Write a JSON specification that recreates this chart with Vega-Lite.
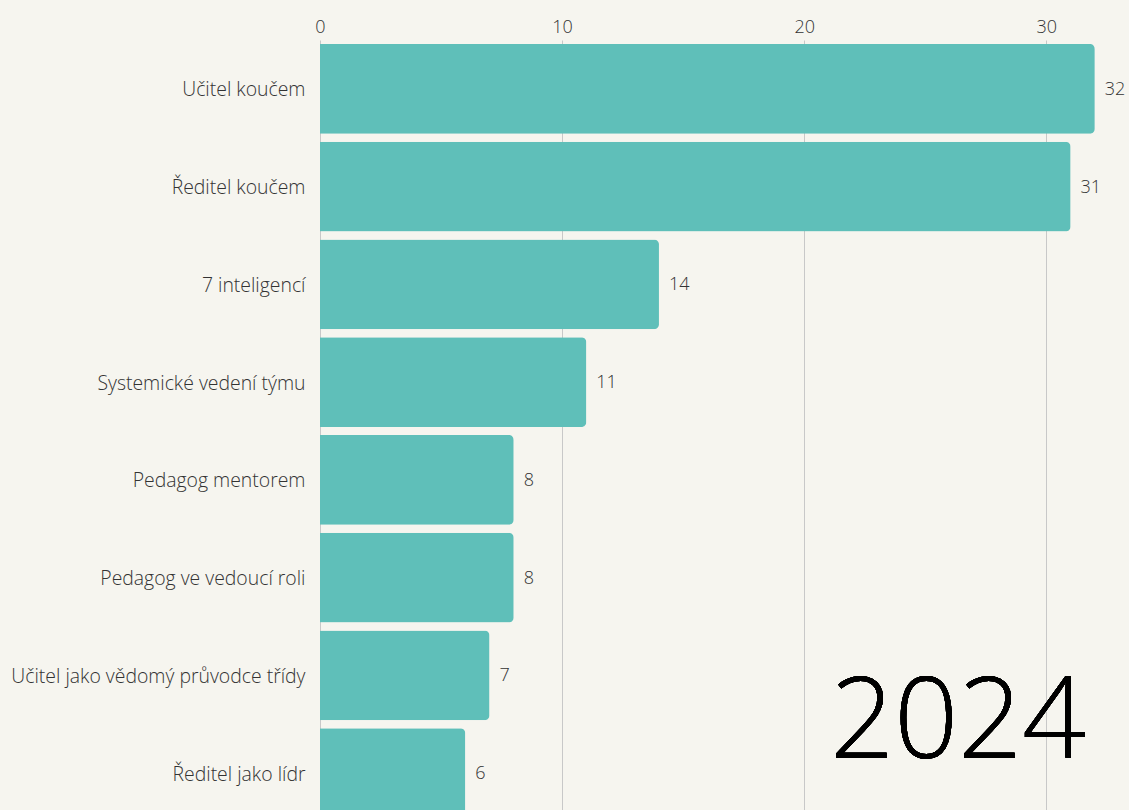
{
  "$schema": "https://vega.github.io/schema/vega-lite/v6.json",
  "autosize": "none",
  "padding": {"left": 320, "top": 40, "right": 10, "bottom": 0},
  "width": 799,
  "height": 782,
  "background": "#f6f5ef",
  "config": {
    "view": {"stroke": null},
    "font": "Open Sans"
  },
  "data": {
    "values": [
      {"kurz": "Učitel koučem", "pocet": 32},
      {"kurz": "Ředitel koučem", "pocet": 31},
      {"kurz": "7 inteligencí", "pocet": 14},
      {"kurz": "Systemické vedení týmu", "pocet": 11},
      {"kurz": "Pedagog mentorem", "pocet": 8},
      {"kurz": "Pedagog ve vedoucí roli", "pocet": 8},
      {"kurz": "Učitel jako vědomý průvodce třídy", "pocet": 7},
      {"kurz": "Ředitel jako lídr", "pocet": 6}
    ]
  },
  "encoding": {
    "y": {
      "field": "kurz",
      "type": "nominal",
      "sort": null,
      "scale": {"paddingInner": 0.08, "paddingOuter": 0.04},
      "axis": {
        "title": null,
        "domain": false,
        "ticks": false,
        "labelFont": "Open Sans",
        "labelFontWeight": 300,
        "labelFontSize": 19.4,
        "labelColor": "#333333",
        "labelPadding": 15,
        "labelLimit": 400,
        "labelOffset": 1.5
      }
    },
    "x": {
      "field": "pocet",
      "type": "quantitative",
      "scale": {"domain": [0, 33], "nice": false},
      "axis": {
        "orient": "top",
        "title": null,
        "domain": false,
        "ticks": false,
        "values": [0, 10, 20, 30],
        "labelFlush": false,
        "labelFont": "Open Sans",
        "labelFontWeight": 300,
        "labelFontSize": 18,
        "labelColor": "#333333",
        "labelPadding": 4,
        "grid": true,
        "gridColor": "#c8c8c8",
        "gridWidth": 1
      }
    }
  },
  "layer": [
    {
      "mark": {"type": "bar", "color": "#5fbfb9", "cornerRadiusEnd": 5}
    },
    {
      "mark": {
        "type": "text",
        "align": "left",
        "baseline": "middle",
        "dx": 10,
        "dy": 1,
        "font": "Open Sans",
        "fontWeight": 300,
        "fontSize": 18,
        "color": "#333333"
      },
      "encoding": {"text": {"field": "pocet", "type": "quantitative"}}
    },
    {
      "mark": {
        "type": "text",
        "align": "center",
        "baseline": "alphabetic",
        "dy": -15,
        "font": "Open Sans",
        "fontWeight": 300,
        "fontSize": 112,
        "color": "#000000"
      },
      "encoding": {
        "x": {"datum": 26.36},
        "y": {"datum": "Ředitel jako lídr"},
        "text": {"value": "2024"}
      }
    }
  ]
}
